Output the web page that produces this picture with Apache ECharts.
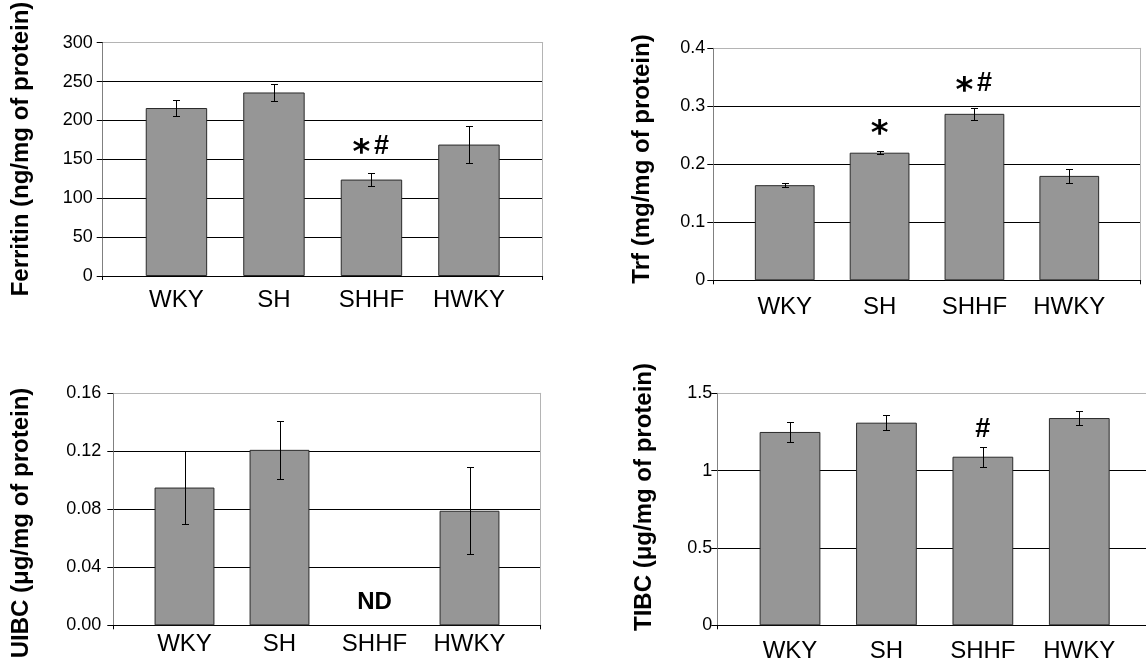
<!DOCTYPE html>
<html><head><meta charset="utf-8">
<script src="https://cdn.jsdelivr.net/npm/echarts@6/dist/echarts.min.js"></script>
<style>html,body{margin:0;padding:0;background:#fff}#c{width:1146px;height:666px}</style>
</head><body><div id="c"></div>
<script>
// ---- DATA ----
const categories = ['WKY', 'SH', 'SHHF', 'HWKY'];

const ferritinMean = [216, 236, 124, 169];
const ferritinErr = [10.5, 11, 8, 24];
const ferritinMarks = ['', '', '*#', ''];
const ferritinTicks = ['0', '50', '100', '150', '200', '250', '300'];
const ferritinTitle = 'Ferritin (ng/mg of protein)';

const trfMean = [0.164, 0.220, 0.287, 0.180];
const trfErr = [0.003, 0.003, 0.010, 0.012];
const trfMarks = ['', '*', '*#', ''];
const trfTicks = ['0', '0.1', '0.2', '0.3', '0.4'];
const trfTitle = 'Trf (mg/mg of protein)';

const uibcMean = [0.095, 0.121, null, 0.079];
const uibcErr = [0.025, 0.020, null, 0.030];
const uibcMarks = ['', '', 'ND', ''];
const uibcTicks = ['0.00', '0.04', '0.08', '0.12', '0.16'];
const uibcTitle = 'UIBC (\u03bcg/mg of protein)';

const tibcMean = [1.25, 1.31, 1.09, 1.34];
const tibcErr = [0.065, 0.048, 0.065, 0.045];
const tibcMarks = ['', '', '#', ''];
const tibcTicks = ['0', '0.5', '1', '1.5'];
const tibcTitle = 'TIBC (\u03bcg/mg of protein)';

// ---- LAYOUT ----
const FONT = '"Liberation Sans", Arial, Helvetica, sans-serif';
const panels = [
  { title: ferritinTitle, mean: ferritinMean, err: ferritinErr, marks: ferritinMarks, ticks: ferritinTicks,
    frame: [102.7, 542.7, 42.7, 276], inset: 25, titlePos: [21, 149], xMargin: 12, yMargin: 10, markGap: 27 },
  { title: trfTitle, mean: trfMean, err: trfErr, marks: trfMarks, ticks: trfTicks,
    frame: [713.3, 1140.7, 48.3, 280.3], inset: 24, titlePos: [642, 159], xMargin: 15, yMargin: 8, markGap: 24 },
  { title: uibcTitle, mean: uibcMean, err: uibcErr, marks: uibcMarks, ticks: uibcTicks,
    frame: [113.3, 540.7, 393.3, 625.3], inset: 23.7, titlePos: [21, 523], xMargin: 7, yMargin: 12, markGap: 23 },
  { title: tibcTitle, mean: tibcMean, err: tibcErr, marks: tibcMarks, ticks: tibcTicks,
    frame: [717.3, 1152, 393.3, 625.3], inset: 24.5, titlePos: [644, 497], xMargin: 14, yMargin: 5, markGap: 17 }
];

const W = 1146, H = 666;
const grid = [], xAxis = [], yAxis = [], series = [], graphic = [];

panels.forEach((p, k) => {
  const [l, r, t, b] = p.frame;
  const max = parseFloat(p.ticks[p.ticks.length - 1]);
  const step = parseFloat(p.ticks[1]);
  grid.push({ left: l, top: t, width: r - l, height: b - t });
  grid.push({ left: l + p.inset, top: t, width: r - l - 2 * p.inset, height: b - t });
  const gF = 2 * k, gB = 2 * k + 1;
  // frame x axes
  xAxis.push({ gridIndex: gF, type: 'value', min: 0, max: 1, interval: 1,
    axisLine: { show: true, onZero: false, lineStyle: { color: '#000', width: 1 } },
    axisTick: { show: true, length: 4, lineStyle: { color: '#000' } },
    axisLabel: { show: false }, splitLine: { show: false } });
  xAxis.push({ gridIndex: gF, type: 'value', position: 'top', min: 0, max: 1,
    axisLine: { show: true, onZero: false, lineStyle: { color: '#b4b4b4', width: 1 } },
    axisTick: { show: false }, axisLabel: { show: false }, splitLine: { show: false } });
  xAxis.push({ gridIndex: gB, type: 'category', data: categories,
    axisLine: { show: false }, axisTick: { show: false }, splitLine: { show: false },
    axisLabel: { show: true, margin: p.xMargin, color: '#000', fontSize: 24, fontFamily: FONT } });
  // frame y axes
  yAxis.push({ gridIndex: gF, type: 'value', min: 0, max: max, interval: step,
    axisLine: { show: true, onZero: false, lineStyle: { color: '#808080', width: 1 } },
    axisTick: { show: true, length: 6, lineStyle: { color: '#000' } },
    axisLabel: { show: true, margin: p.yMargin, color: '#000', fontSize: 18, fontFamily: FONT,
      formatter: v => p.ticks[Math.round(v / step)] },
    splitLine: { show: true, showMinLine: false, showMaxLine: false, lineStyle: { color: '#000', width: 1 } } });
  yAxis.push({ gridIndex: gF, type: 'value', position: 'right', min: 0, max: max,
    axisLine: { show: true, onZero: false, lineStyle: { color: '#b4b4b4', width: 1 } },
    axisTick: { show: false }, axisLabel: { show: false }, splitLine: { show: false } });
  yAxis.push({ gridIndex: gB, type: 'value', min: 0, max: max, show: false, splitLine: { show: false } });

  const xi = 3 * k + 2, yi = 3 * k + 2;
  series.push({ type: 'bar', xAxisIndex: xi, yAxisIndex: yi, barWidth: '63%',
    data: p.mean.map(v => v == null ? '-' : v), silent: true,
    itemStyle: { color: '#969696', borderColor: '#2a2a2a', borderWidth: 1 } });

  const errData = p.mean.map((v, i) => [i, v, p.err[i]]).filter(d => d[1] != null);
  series.push({ type: 'custom', xAxisIndex: xi, yAxisIndex: yi, silent: true, z: 5,
    data: errData,
    renderItem: (params, api) => {
      const v = api.value(1), e = api.value(2);
      const top = api.coord([api.value(0), v + e]);
      const bot = api.coord([api.value(0), v - e]);
      const x = Math.round(top[0]) + 0.5;
      const y1 = Math.round(top[1]) + 0.5, y2 = Math.round(bot[1]) + 0.5;
      const h = 3.5, st = { stroke: '#000', lineWidth: 1 };
      return { type: 'group', children: [
        { type: 'line', shape: { x1: x, y1: y1, x2: x, y2: y2 }, style: st },
        { type: 'line', shape: { x1: x - h, y1: y1, x2: x + h, y2: y1 }, style: st },
        { type: 'line', shape: { x1: x - h, y1: y2, x2: x + h, y2: y2 }, style: st }
      ] };
    } });

  const markData = p.mean.map((v, i) => [i, (v || 0) + (p.err[i] || 0)]);
  series.push({ type: 'custom', xAxisIndex: xi, yAxisIndex: yi, silent: true, z: 6,
    data: markData,
    renderItem: (params, api) => {
      const mark = p.marks[params.dataIndex];
      if (!mark) return;
      const c = api.coord([api.value(0), api.value(1)]);
      const cy = c[1] - p.markGap;
      if (mark === 'ND') {
        return { type: 'text', x: c[0], y: cy, style: { text: mark, font: 'bold 24px ' + FONT,
          fill: '#000', align: 'center', verticalAlign: 'middle', textAlign: 'center', textVerticalAlign: 'middle' } };
      }
      const chars = mark.split('');
      const children = chars.map((ch, j) => {
        const dx = (j - (chars.length - 1) / 2) * 20;
        const isStar = ch === '*';
        return { type: 'text', x: c[0] + dx, y: cy + (isStar ? 8 : 0),
          style: { text: ch, font: isStar ? 'bold 34px "DejaVu Sans", sans-serif' : 'bold 27px ' + FONT,
            fill: '#000', align: 'center', verticalAlign: 'middle', textAlign: 'center', textVerticalAlign: 'middle' } };
      });
      return { type: 'group', children: children };
    } });

  graphic.push({ type: 'text', x: p.titlePos[0], y: p.titlePos[1], rotation: Math.PI / 2, silent: true,
    style: { text: p.title, font: 'bold 24px ' + FONT, fill: '#000',
      align: 'center', verticalAlign: 'middle', textAlign: 'center', textVerticalAlign: 'middle' } });
});

const chart = echarts.init(document.getElementById('c'), null, { renderer: 'canvas', width: W, height: H });
chart.setOption({
  animation: false,
  backgroundColor: '#fff',
  grid: grid, xAxis: xAxis, yAxis: yAxis, series: series, graphic: graphic
});
</script>
</body></html>
